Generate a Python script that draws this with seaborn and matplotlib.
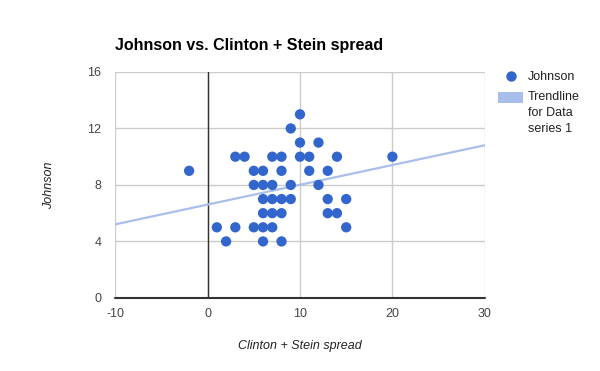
import matplotlib
matplotlib.use("Agg")
import matplotlib.pyplot as plt
import seaborn as sns
import pandas as pd
from matplotlib.lines import Line2D
from matplotlib.patches import Patch, Rectangle
from matplotlib.legend_handler import HandlerPatch

sns.set_theme(style='white')
plt.rcParams['font.family'] = ['Liberation Sans', 'DejaVu Sans']
plt.rcParams['axes.unicode_minus'] = False

# Clinton + Stein spread vs Johnson
spread = [-2, 10, 9, 10, 12,
          3, 4, 7, 8, 10, 11, 14, 20,
          5, 6, 8, 11, 13,
          5, 6, 7, 9, 12,
          6, 7, 8, 9, 13, 15,
          6, 7, 8, 13, 14,
          1, 3, 5, 6, 7, 15,
          2, 6, 8]
johnson = [9, 13, 12, 11, 11,
           10, 10, 10, 10, 10, 10, 10, 10,
           9, 9, 9, 9, 9,
           8, 8, 8, 8, 8,
           7, 7, 7, 7, 7, 7,
           6, 6, 6, 6, 6,
           5, 5, 5, 5, 5, 5,
           4, 4, 4]
# trendline as drawn in the reference
trend_slope = 0.14
trend_intercept = 6.61

df = pd.DataFrame({'spread': spread, 'johnson': johnson})

point_color = '#3366CC'
trend_color = '#A9BFEB'

fig = plt.figure(figsize=(6, 3.71), dpi=100)
ax = fig.add_axes([0.192, 0.197, 0.616, 0.609])

ax.set_xlim(-10, 30)
ax.set_ylim(0, 16)
ax.set_xticks([-10, 0, 10, 20, 30])
ax.set_yticks([0, 4, 8, 12, 16])
ax.grid(True, color='#CCCCCC', linewidth=1)
ax.set_axisbelow(True)
for s in ax.spines.values():
    s.set_visible(False)
ax.axvline(0, color='#333333', linewidth=1, zorder=1.5)
ax.axhline(0, color='#333333', linewidth=1.5, zorder=1.5, clip_on=False)

ax.axline((0, trend_intercept), slope=trend_slope, color=trend_color, linewidth=1.6, zorder=2)
sns.scatterplot(data=df, x='spread', y='johnson', color=point_color, s=55,
                edgecolor='none', ax=ax, zorder=3, legend=False)

ax.tick_params(axis='both', length=0, labelsize=9, labelcolor='#444444')
ax.tick_params(axis='x', pad=7)
ax.tick_params(axis='y', pad=10)
ax.set_xlabel('Clinton + Stein spread', fontsize=9, style='italic', color='#222222', labelpad=15)
ax.set_ylabel('Johnson', fontsize=9, style='italic', color='#222222', labelpad=23)

fig.text(0.192, 0.858, 'Johnson vs. Clinton + Stein spread', fontsize=11.5,
         fontweight='bold', color='#000000', va='bottom', ha='left')


# put the trendline swatch next to the first line of its label
def top_patch(legend, orig_handle, xdescent, ydescent, width, height, fontsize):
    h = 8.5
    return Rectangle((-xdescent, height / 2 - ydescent - h / 2 + 11), width, h)


handles = [Line2D([], [], marker='o', linestyle='none', markersize=7.5,
                  markerfacecolor=point_color, markeredgecolor='none'),
           Patch(facecolor=trend_color, edgecolor='none')]
leg = fig.legend(handles, ['Johnson', 'Trendline\nfor Data\nseries 1'],
                 loc='upper left', bbox_to_anchor=(0.822, 0.822), frameon=False,
                 fontsize=9, handlelength=2.0, handletextpad=0.4,
                 labelspacing=0.6, borderaxespad=0,
                 handler_map={Patch: HandlerPatch(patch_func=top_patch)})
for t in leg.get_texts():
    t.set_color('#222222')
    t.set_linespacing(1.45)

fig.savefig('out.png', dpi=100)
